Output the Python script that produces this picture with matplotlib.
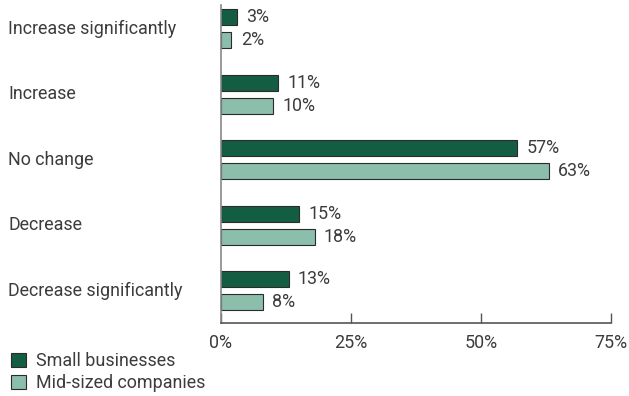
import matplotlib.pyplot as plt
import numpy as np
from matplotlib.patches import Patch

plt.rcParams['font.family'] = ['Roboto', 'DejaVu Sans']

categories = ['Increase significantly', 'Increase', 'No change', 'Decrease', 'Decrease significantly']
small = [3, 11, 57, 15, 13]
mid = [2, 10, 63, 18, 8]
series_names = ['Small businesses', 'Mid-sized companies']

dark = '#135e43'
light = '#8cbfab'
edge = '#2b2b2b'
txt = '#3c3c3c'
fs = 12.9

fig = plt.figure(figsize=(6.29, 3.96), dpi=100)
ax = fig.add_axes([221 / 629, 1 - 323 / 396, 390 / 629, 318 / 396])

y = np.arange(len(categories))
h = 0.245
off = 0.176
ax.barh(y - off, small, height=h, color=dark, edgecolor=edge, linewidth=0.8)
ax.barh(y + off, mid, height=h, color=light, edgecolor=edge, linewidth=0.8)

for yi, v in zip(y, small):
    ax.text(v + 1.8, yi - off, f'{v}%', va='center', ha='left', fontsize=fs, color=txt)
for yi, v in zip(y, mid):
    ax.text(v + 1.8, yi + off, f'{v}%', va='center', ha='left', fontsize=fs, color=txt)

ax.set_xlim(0, 75)
ax.set_ylim(4.49, -0.36)
ax.set_xticks([0, 25, 50, 75])
ax.set_xticklabels(['0%', '25%', '50%', '75%'], fontsize=fs, color=txt)
ax.tick_params(axis='x', direction='in', length=7, width=1, color='#555555', pad=8)
ax.tick_params(axis='y', length=0)
ax.set_yticks([])

for yi, c in zip(y, categories):
    fig.text(8 / 629, 1 - (323 - (4.49 - yi) * 65.5) / 396, c, ha='left', va='center',
             fontsize=fs, color=txt)

for s in ['top', 'right']:
    ax.spines[s].set_visible(False)
ax.spines['left'].set_color('#888888')
ax.spines['bottom'].set_color('#555555')
ax.spines['left'].set_linewidth(1.2)
ax.spines['bottom'].set_linewidth(1.2)

handles = [Patch(facecolor=dark, edgecolor=edge, linewidth=0.8),
           Patch(facecolor=light, edgecolor=edge, linewidth=0.8)]
leg = fig.legend(handles, series_names, loc='lower left', bbox_to_anchor=(4 / 629, -0.008),
                 frameon=False, fontsize=fs, handlelength=0.85, handleheight=0.85,
                 handletextpad=0.55, labelspacing=0.2, borderaxespad=0.2, borderpad=0.2)
for t in leg.get_texts():
    t.set_color(txt)

fig.savefig('out.png', dpi=100)
